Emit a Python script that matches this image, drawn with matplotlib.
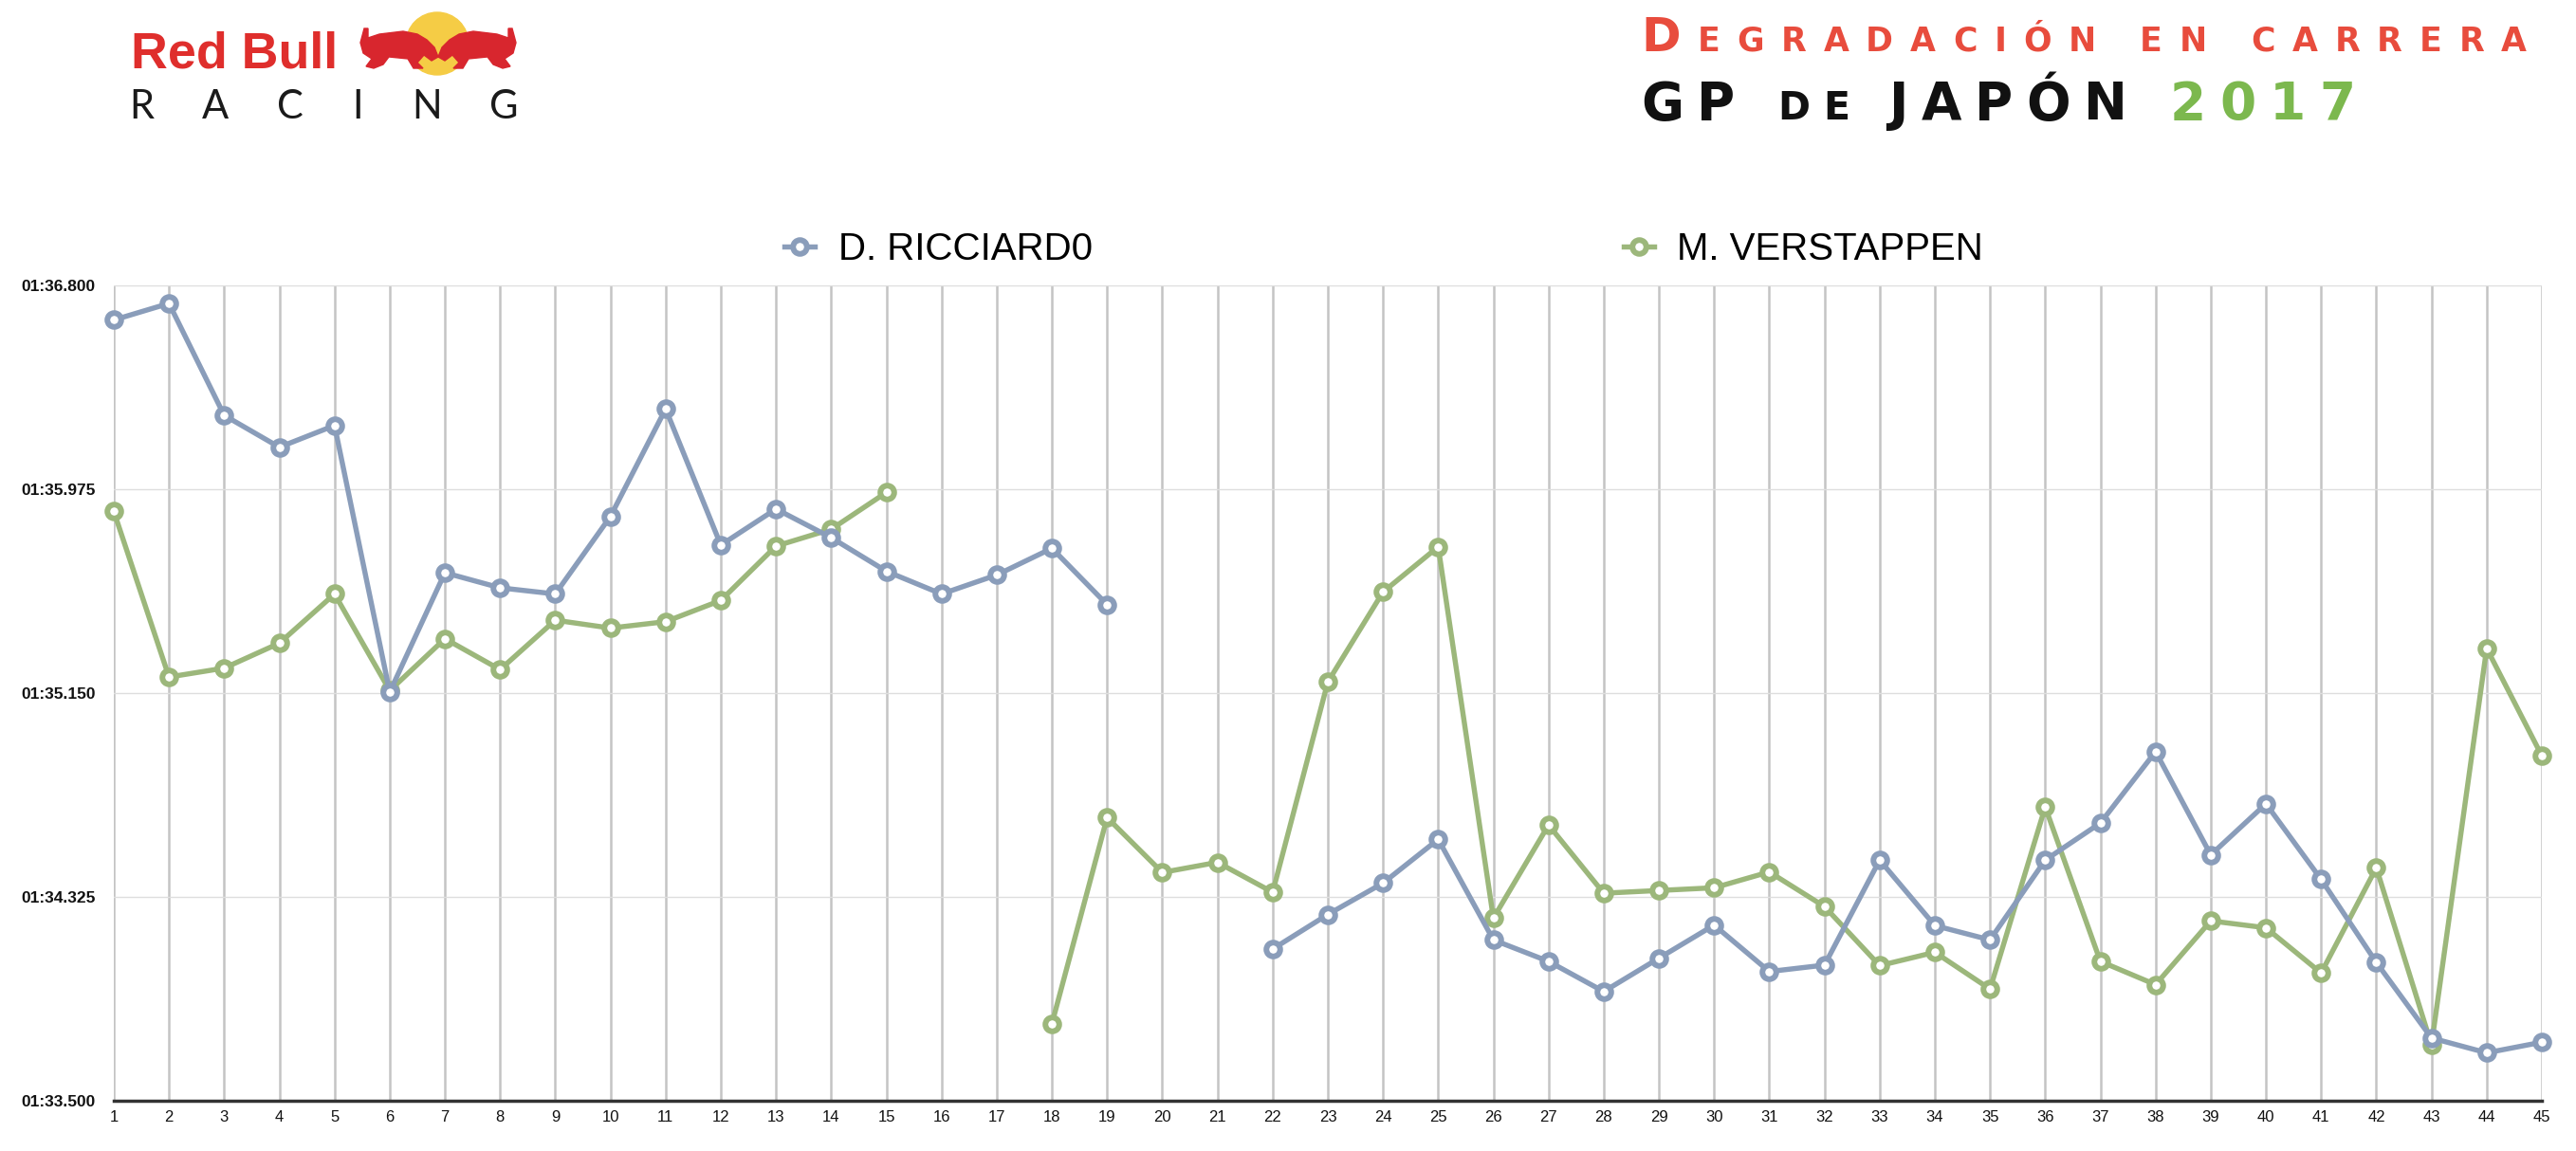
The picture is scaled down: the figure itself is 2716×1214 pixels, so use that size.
import numpy as np
import matplotlib.pyplot as plt
from matplotlib.patches import Ellipse, Polygon
from matplotlib.lines import Line2D

plt.rcParams['font.family'] = ['Liberation Sans', 'DejaVu Sans']

W, H = 2716, 1214
nan = np.nan

laps = np.arange(1, 46)
# tiempos por vuelta en segundos (96.8 = 01:36.800)
ricciardo = [96.660, 96.727, 96.274, 96.145, 96.233, 95.154, 95.637, 95.576, 95.551, 95.865,
             96.300, 95.749, 95.895, 95.779, 95.643, 95.551, 95.628, 95.736, 95.508, nan,
             nan, 94.114, 94.254, 94.381, 94.558, 94.151, 94.064, 93.942, 94.077, 94.211,
             94.023, 94.049, 94.474, 94.209, 94.151, 94.474, 94.624, 94.913, 94.495, 94.702,
             94.396, 94.060, 93.754, 93.694, 93.737]
verstappen = [95.885, 95.215, 95.251, 95.352, 95.551, 95.160, 95.370, 95.245, 95.445, 95.413,
              95.439, 95.525, 95.745, 95.813, 95.962, nan, nan, 93.812, 94.646, 94.424,
              94.465, 94.344, 95.195, 95.559, 95.742, 94.239, 94.616, 94.340, 94.351, 94.362,
              94.426, 94.286, 94.047, 94.101, 93.952, 94.689, 94.064, 93.970, 94.228, 94.200,
              94.017, 94.443, 93.726, 95.331, 94.896]
ytick_vals = [93.5, 94.325, 95.15, 95.975, 96.8]
drivers = ['D. RICCIARD0', 'M. VERSTAPPEN']

BLUE = '#8a9dba'
GREEN = '#9cb77b'


def lap_time(v):
    m = int(v // 60)
    return f"{m:02d}:{v - 60 * m:06.3f}"


def fx(x):
    return x / W


def fy(y):
    return 1 - y / H


def tracked(fig, renderer, x0, x1, base, parts, family, weight):
    # reparte las letras entre x0 y x1 (espaciado de letras tipo logo)
    items = []
    for s, size, color in parts:
        for ch in s:
            if ch == ' ':
                items.append((None, size * 100 / 72 * 0.3))
            else:
                t = fig.text(0, fy(base), ch, fontsize=size, color=color, family=family,
                             fontweight=weight, ha='left', va='baseline')
                items.append((t, t.get_window_extent(renderer).width))
    track = (x1 - x0 - sum(w for _, w in items)) / (len(items) - 1)
    x = x0
    for t, w in items:
        if t is not None:
            t.set_x(fx(x))
        x += w + track


fig = plt.figure(figsize=(W / 100, H / 100), dpi=100)
renderer = fig.canvas.get_renderer()

ax = fig.add_axes([fx(120), fy(1161), (2680 - 120) / W, (1161 - 301) / H])
style = dict(lw=3.9, marker='o', ms=10.5, mew=4.3, mfc='white', clip_on=False)
ax.plot(laps, verstappen, color=GREEN, mec=GREEN, zorder=3, **style)
ax.plot(laps, ricciardo, color=BLUE, mec=BLUE, zorder=4, **style)

ax.set_xlim(1, 45)
ax.set_ylim(93.5, 96.8)
ax.set_xticks(laps)
ax.set_yticks(ytick_vals, labels=[lap_time(v) for v in ytick_vals], fontweight='bold')
ax.tick_params(axis='y', length=0, pad=14, labelsize=12.5, labelcolor='#111111')
ax.tick_params(axis='x', length=0, pad=7, labelsize=12, labelcolor='#111111')
ax.grid(axis='x', color='#c4c4c4', lw=1.8)
ax.grid(axis='y', color='#dedede', lw=1.0)
ax.set_axisbelow(True)
for side in ['left', 'right', 'top']:
    ax.spines[side].set_visible(False)
ax.spines['bottom'].set_color('#333333')
ax.spines['bottom'].set_linewidth(2.5)

handles = [Line2D([], [], color=c, mec=c, **{k: v for k, v in style.items() if k != 'clip_on'})
           for c in (BLUE, GREEN)]
fig.legend(handles, drivers, loc='center', bbox_to_anchor=(fx(1459), fy(263)), ncol=2,
           frameon=False, fontsize=29, handlelength=0.8, handletextpad=0.6, columnspacing=13.9)

# logo Red Bull Racing
fig.patches.append(Ellipse((fx(461), fy(46)), 66 / W, 66 / H, color='#f5cc45',
                           transform=fig.transFigure, zorder=1))
bull = [(380, 45), (384, 30), (388, 30), (388, 40), (400, 36), (425, 33), (440, 36), (450, 42),
        (458, 50), (462, 60), (455, 64), (447, 58), (440, 66), (446, 72), (436, 72), (430, 62),
        (410, 60), (404, 68), (394, 72), (386, 70), (392, 62), (383, 56)]
for mirror in (False, True):
    pts = [(fx(924 - x if mirror else x), fy(y)) for x, y in bull]
    fig.patches.append(Polygon(pts, closed=True, color='#d8262e', transform=fig.transFigure, zorder=2))
logo = fig.text(fx(138), fy(72), 'Red Bull', fontsize=48, fontweight='bold', color='#df2e2c',
                family=['Liberation Sans Narrow', 'Liberation Sans'], ha='left', va='baseline')
# ajustar al ancho del logo original
logo.set_fontsize(48 * 218 / logo.get_window_extent(renderer).width)
tracked(fig, renderer, 136, 547, 125, [('RACING', 30, '#1a1a1a')], ['Lato', 'DejaVu Sans'], 'normal')

# titulo
tracked(fig, renderer, 1730, 2664, 54,
        [('D', 36, '#e84c3d'), ('EGRADACIÓN EN CARRERA', 25, '#e84c3d')],
        ['DejaVu Sans'], 'bold')
tracked(fig, renderer, 1730, 2483, 126,
        [('GP ', 39.5, '#111111'), ('DE ', 29.5, '#111111'), ('JAPÓN ', 39.5, '#111111'),
         ('2017', 39.5, '#7cb84e')],
        ['DejaVu Sans'], 'bold')

plt.savefig('out.png', dpi=100)
